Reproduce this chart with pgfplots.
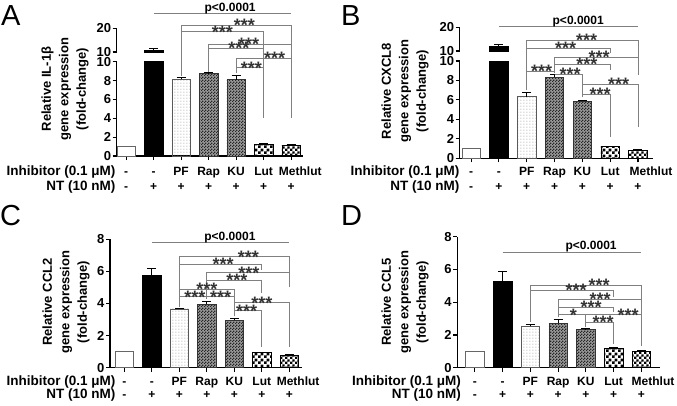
\documentclass[border=0pt]{standalone}
\usepackage{fontspec}
\setmainfont{Liberation Sans}
\usepackage{pgfplots}
\pgfplotsset{compat=1.18}
\usetikzlibrary{patterns.meta}

\pgfdeclarepattern{name=pfdots, type=uncolored,
  bottom left={\pgfpoint{0pt}{0pt}}, top right={\pgfpoint{2.6pt}{2.6pt}},
  tile size={\pgfpoint{2.6pt}{2.6pt}},
  code={\pgfpathrectangle{\pgfpoint{0.4pt}{0.6pt}}{\pgfpoint{1.1pt}{0.7pt}}\pgfusepath{fill}}}
\pgfdeclarepattern{name=fchk, type=uncolored,
  bottom left={\pgfpoint{0pt}{0pt}}, top right={\pgfpoint{3pt}{3pt}},
  tile size={\pgfpoint{3pt}{3pt}},
  code={\pgfpathrectangle{\pgfpoint{0pt}{0pt}}{\pgfpoint{1.5pt}{1.5pt}}\pgfpathrectangle{\pgfpoint{1.5pt}{1.5pt}}{\pgfpoint{1.5pt}{1.5pt}}\pgfusepath{fill}}}
\pgfdeclarepattern{name=fchkb, type=uncolored,
  bottom left={\pgfpoint{0pt}{0pt}}, top right={\pgfpoint{2.6pt}{2.6pt}},
  tile size={\pgfpoint{2.6pt}{2.6pt}},
  code={\pgfpathrectangle{\pgfpoint{0pt}{0pt}}{\pgfpoint{1.3pt}{1.3pt}}\pgfpathrectangle{\pgfpoint{1.3pt}{1.3pt}}{\pgfpoint{1.3pt}{1.3pt}}\pgfusepath{fill}}}
\pgfdeclarepattern{name=cchk, type=uncolored,
  bottom left={\pgfpoint{0pt}{0pt}}, top right={\pgfpoint{6pt}{6pt}},
  tile size={\pgfpoint{6pt}{6pt}},
  code={\pgfpathrectangle{\pgfpoint{0pt}{0pt}}{\pgfpoint{3pt}{3pt}}\pgfpathrectangle{\pgfpoint{3pt}{3pt}}{\pgfpoint{3pt}{3pt}}\pgfusepath{fill}}}
\pgfdeclarepattern{name=cchkb, type=uncolored,
  bottom left={\pgfpoint{0pt}{0pt}}, top right={\pgfpoint{5.2pt}{5.2pt}},
  tile size={\pgfpoint{5.2pt}{5.2pt}},
  code={\pgfpathrectangle{\pgfpoint{0pt}{0pt}}{\pgfpoint{2.6pt}{2.6pt}}\pgfpathrectangle{\pgfpoint{2.6pt}{2.6pt}}{\pgfpoint{2.6pt}{2.6pt}}\pgfusepath{fill}}}

\tikzset{
  brk/.style={draw=black!50, line width=0.8pt},
  star/.style={anchor=base, yshift=-6.4pt, inner sep=0pt, text=black!80, font=\fontsize{18}{18}\selectfont\bfseries},
  ptxt/.style={anchor=base, yshift=2.3pt, inner sep=0pt, font=\fontsize{12}{12}\selectfont\bfseries},
  cat/.style={anchor=base, inner sep=0pt, font=\fontsize{12}{12}\selectfont\bfseries},
  rowlab/.style={anchor=base east, inner sep=0pt, font=\fontsize{13.5}{13.5}\selectfont\bfseries},
  ylab/.style={rotate=90, align=center, inner sep=0pt, font=\fontsize{13}{17.5}\selectfont\bfseries},
  letter/.style={anchor=base west, inner sep=0pt, font=\fontsize{29}{29}\selectfont},
}
\pgfplotsset{
  panel/.style={
    scale only axis, anchor=south west,
    axis x line*=bottom, axis y line*=left,
    axis line style={-, line width=1.1pt, black},
    tick align=outside, major tick length=4pt,
    tick style={line width=1.1pt, black},
    xtick={0,1,2,3,4,5,6}, xticklabel=\empty,
    yticklabel style={font=\fontsize{13}{13}\selectfont\bfseries, inner sep=1.5pt},
    /pgf/number format/assume math mode=true,
    clip mode=individual,
  },
  bb/.style={ybar, bar width=18.5pt, bar shift=0pt, line width=0.6pt},
  e/.style={error bars/y dir=plus, error bars/y explicit,
    error bars/error bar style={line width=0.9pt, black},
    error bars/error mark options={rotate=90, mark size=4.5pt, line width=0.9pt, black}},
  b0/.style={bb, fill=white, draw=black!60},
  b1/.style={bb, e, fill=black, draw=black},
  b2/.style={bb, e, draw=black!65, pattern=pfdots, pattern color=black!55},
  b3/.style={bb, e, draw=black!80, fill=black!40, postaction={pattern=fchk, pattern color=black!85}},
  b4/.style={bb, e, draw=black!80, fill=black!40, postaction={pattern=fchkb, pattern color=black!85}},
  b5/.style={bb, e, draw=black, pattern=cchk, pattern color=black},
  b6/.style={bb, e, draw=black, pattern=cchkb, pattern color=black},
}
\newcommand{\brk}[7]{%
  \draw[brk] (axis cs:#1,#4) |- (axis cs:#2,#3) -- (axis cs:#2,#5);
  \node[star] at (axis cs:#7,#3) {#6};}
\newcommand{\pline}[2]{%
  \draw[brk] (axis cs:1,#1) -- (axis cs:6,#1);
  \node[ptxt] at (axis cs:#2,#1) {p<0.0001};}
\newcommand{\catrows}[3]{%
  \node[cat] at (axis cs:0,#1) {-};
  \node[cat] at (axis cs:1,#1) {-};
  \node[cat] at (axis cs:2,#1) {PF};
  \node[cat] at (axis cs:3,#1) {Rap};
  \node[cat] at (axis cs:4,#1) {KU};
  \node[cat] at (axis cs:5,#1) {Lut};
  \node[cat] at (axis cs:#3,#1) {Methlut};
  \node[cat] at (axis cs:0,#2) {-};
  \node[cat] at (axis cs:1,#2) {+};
  \node[cat] at (axis cs:2,#2) {+};
  \node[cat] at (axis cs:3,#2) {+};
  \node[cat] at (axis cs:4,#2) {+};
  \node[cat] at (axis cs:5,#2) {+};
  \node[cat] at (axis cs:6,#2) {+};}

\begin{document}
\begin{tikzpicture}
\useasboundingbox (0pt,0pt) rectangle (677pt,-405pt);

% letters
\node[letter] at (1pt,-25pt) {A};
\node[letter] at (341pt,-25.5pt) {B};
\node[letter] at (0pt,-225pt) {C};
\node[letter] at (341pt,-225pt) {D};

% y labels
\node[ylab] at (65pt,-89pt) {Relative IL-1β\\gene expression\\(fold-change)};
\node[ylab] at (405pt,-91pt) {Relative CXCL8\\gene expression\\(fold-change)};
\node[ylab] at (66pt,-302pt) {Relative CCL2\\gene expression\\(fold-change)};
\node[ylab] at (405pt,-302pt) {Relative CCL5\\gene expression\\(fold-change)};

% row labels
\node[rowlab] at (115.5pt,-175.6pt) {Inhibitor (0.1 μM)};
\node[rowlab] at (115.5pt,-190.4pt) {NT (10 nM)};
\node[rowlab] at (459.5pt,-175.6pt) {Inhibitor (0.1 μM)};
\node[rowlab] at (459.5pt,-190.4pt) {NT (10 nM)};
\node[rowlab] at (115.5pt,-385.5pt) {Inhibitor (0.1 μM)};
\node[rowlab] at (115.5pt,-398.4pt) {NT (10 nM)};
\node[rowlab] at (461pt,-385.5pt) {Inhibitor (0.1 μM)};
\node[rowlab] at (461pt,-398.4pt) {NT (10 nM)};

% ---------------- Panel A ----------------
\begin{axis}[panel, at={(116.7pt,-156pt)}, width=186.3pt, height=94.3pt,
  xmin=-0.34, xmax=6.43, ymin=0, ymax=10, ytick={0,2,4,6,8,10}]
\addplot[b0] coordinates {(0,1.0)};
\addplot[b1] coordinates {(1,10.7) +- (0,0.8)};
\addplot[b2] coordinates {(2,8.15) +- (0,0.15)};
\addplot[b3] coordinates {(3,8.75) +- (0,0.1)};
\addplot[b4] coordinates {(4,8.1) +- (0,0.45)};
\addplot[b5] coordinates {(5,1.25) +- (0,0.05)};
\addplot[b6] coordinates {(6,1.15) +- (0,0.05)};
\pline{15.13}{3.78}
\brk{2}{6}{13.89}{8.5}{4.0}{***}{4.3}
\brk{2}{5}{13.18}{8.5}{4.0}{***}{3.5}
\brk{3}{6}{11.88}{8.95}{4.0}{***}{4.45}
\brk{3}{5}{11.42}{8.95}{4.0}{***}{4.1}
\brk{4}{6}{10.36}{8.8}{4.0}{***}{5.4}
\brk{4}{5}{9.36}{8.8}{4.0}{***}{4.55}
\catrows{-2.08}{-3.65}{6.33}
\end{axis}
\begin{axis}[panel, at={(116.7pt,-52pt)}, width=186.3pt, height=23.7pt,
  xmin=-0.34, xmax=6.43, ymin=10, ymax=20, ytick={10,20}, axis x line=none]
\addplot[b1] coordinates {(1,10.7) +- (0,0.8)};
\end{axis}

% ---------------- Panel B ----------------
\begin{axis}[panel, at={(459.7pt,-158.3pt)}, width=193.3pt, height=97.3pt,
  xmin=-0.41, xmax=6.54, ymin=0, ymax=10, ytick={0,2,4,6,8,10}]
\addplot[b0] coordinates {(0,1.0)};
\addplot[b1] coordinates {(1,11.8) +- (0,1.2)};
\addplot[b2] coordinates {(2,6.33) +- (0,0.45)};
\addplot[b3] coordinates {(3,8.32) +- (0,0.25)};
\addplot[b4] coordinates {(4,5.88) +- (0,0.07)};
\addplot[b5] coordinates {(5,1.2) +- (0,0.05)};
\addplot[b6] coordinates {(6,0.85) +- (0,0.03)};
\pline{13.53}{3.85}
\brk{2}{6}{12.16}{7.0}{8.56}{***}{4.15}
\brk{2}{5}{11.31}{7.0}{10.8}{***}{3.4}
\brk{3}{6}{10.41}{8.75}{8.56}{***}{4.6}
\brk{3}{5}{9.69}{8.75}{9.07}{***}{4.16}
\brk{2}{3}{8.97}{7.0}{8.75}{***}{2.54}
\brk{3}{4}{8.66}{8.66}{6.3}{***}{3.56}
\brk{4}{6}{7.64}{6.3}{3.25}{***}{5.3}
\brk{4}{5}{6.61}{6.3}{2.22}{***}{4.64}
\catrows{-1.78}{-3.30}{6.47}
\end{axis}
\begin{axis}[panel, at={(459.7pt,-51pt)}, width=193.3pt, height=23.5pt,
  xmin=-0.41, xmax=6.54, ymin=10, ymax=20, ytick={10,20}, axis x line=none]
\addplot[b1] coordinates {(1,11.8) +- (0,1.2)};
\end{axis}

% ---------------- Panel C ----------------
\begin{axis}[panel, at={(110pt,-367.7pt)}, width=191.7pt, height=128.4pt,
  xmin=-0.52, xmax=6.45, ymin=0, ymax=8, ytick={0,2,4,6,8}]
\addplot[b0] coordinates {(0,1.0)};
\addplot[b1] coordinates {(1,5.74) +- (0,0.45)};
\addplot[b2] coordinates {(2,3.66) +- (0,0.05)};
\addplot[b3] coordinates {(3,3.95) +- (0,0.17)};
\addplot[b4] coordinates {(4,2.95) +- (0,0.1)};
\addplot[b5] coordinates {(5,0.93) +- (0,0.02)};
\addplot[b6] coordinates {(6,0.79) +- (0,0.02)};
\pline{7.79}{3.84}
\brk{2}{6}{6.92}{3.8}{5.46}{***}{4.51}
\brk{2}{5}{6.46}{3.8}{6.09}{***}{3.59}
\brk{3}{6}{5.92}{4.3}{5.0}{***}{4.53}
\brk{3}{5}{5.46}{4.3}{4.63}{***}{4.09}
\brk{2}{4}{4.88}{3.8}{3.2}{***}{3.0}
\brk{2}{3}{4.42}{3.8}{4.3}{***}{2.57}
\brk{3}{4}{4.42}{4.3}{3.2}{***}{3.5}
\brk{4}{6}{4.05}{3.2}{1.3}{***}{5.0}
\brk{4}{5}{3.55}{3.2}{1.3}{***}{4.45}
\catrows{-1.11}{-1.91}{6.32}
\end{axis}

% ---------------- Panel D ----------------
\begin{axis}[panel, at={(457.3pt,-367.7pt)}, width=202.4pt, height=131pt,
  xmin=-0.63, xmax=6.66, ymin=0, ymax=8, ytick={0,2,4,6,8}]
\addplot[b0] coordinates {(0,1.0)};
\addplot[b1] coordinates {(1,5.25) +- (0,0.65)};
\addplot[b2] coordinates {(2,2.54) +- (0,0.1)};
\addplot[b3] coordinates {(3,2.71) +- (0,0.25)};
\addplot[b4] coordinates {(4,2.36) +- (0,0.03)};
\addplot[b5] coordinates {(5,1.2) +- (0,0.04)};
\addplot[b6] coordinates {(6,1.0) +- (0,0.03)};
\pline{7.07}{4.19}
\brk{2}{6}{5.05}{2.8}{2.8}{***}{4.48}
\brk{2}{5}{4.72}{2.8}{4.3}{***}{3.65}
\brk{3}{6}{4.2}{3.1}{2.8}{***}{4.51}
\brk{3}{5}{3.7}{3.1}{3.4}{***}{4.19}
\brk{3}{4}{3.23}{3.1}{2.5}{*}{3.55}
\brk{4}{6}{3.23}{2.5}{1.3}{***}{5.52}
\brk{4}{5}{2.77}{2.5}{1.45}{***}{4.62}
\catrows{-1.085}{-1.87}{6.42}
\end{axis}
\end{tikzpicture}
\end{document}
